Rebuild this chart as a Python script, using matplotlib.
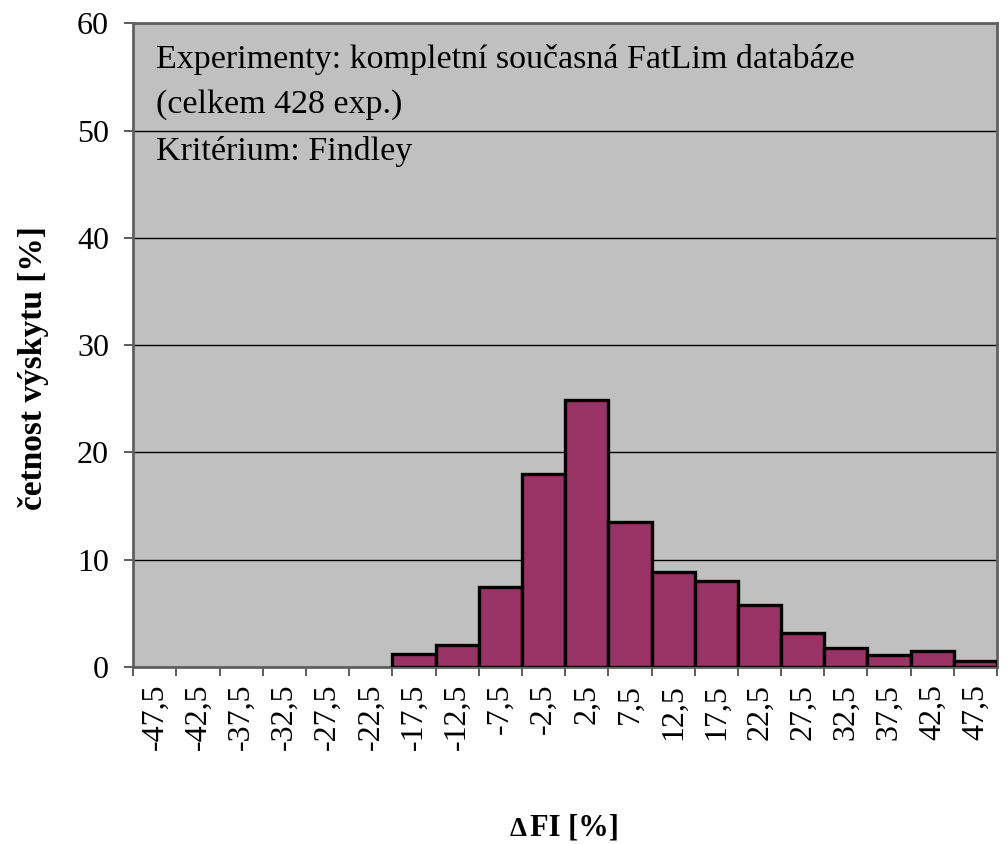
import matplotlib
matplotlib.use('Agg')
import matplotlib.pyplot as plt

# histogram classes (centre of each 5 % wide bin) and relative frequency [%]
categories = ['-47,5', '-42,5', '-37,5', '-32,5', '-27,5', '-22,5', '-17,5', '-12,5',
              '-7,5', '-2,5', '2,5', '7,5', '12,5', '17,5', '22,5', '27,5',
              '32,5', '37,5', '42,5', '47,5']
frequency = [0, 0, 0, 0, 0, 0, 1.2, 2.05, 7.5, 18.0, 24.9, 13.5, 8.9, 8.0,
             5.75, 3.15, 1.75, 1.15, 1.45, 0.55]
y_ticks = [0, 10, 20, 30, 40, 50, 60]

note_lines = ['Experimenty: kompletní současná FatLim databáze',
              '(celkem 428 exp.)',
              'Kritérium: Findley']

plt.rcParams['font.family'] = ['Liberation Serif', 'DejaVu Serif']

fig = plt.figure(figsize=(10.08, 8.44), dpi=100)
ax = fig.add_axes([0.1322, 0.2097, 0.8569, 0.7627])
ax.set_facecolor('#C0C0C0')

# draw only non-empty classes (empty ones have no outline in the original)
pos = [i for i, v in enumerate(frequency) if v > 0]
vals = [frequency[i] for i in pos]
ax.bar(pos, vals, width=1.0, color='#993366', edgecolor='black', linewidth=2.4, zorder=3)

ax.set_xlim(-0.5, len(categories) - 0.5)
ax.set_ylim(0, 60)
ax.set_yticks(y_ticks)
ax.set_yticklabels([str(t) for t in y_ticks], fontsize=23)
ax.yaxis.grid(True, color='black', linewidth=1.0, zorder=1)
ax.set_axisbelow(True)

# tick marks at bin boundaries, labels at bin centres
ax.set_xticks([i - 0.5 for i in range(len(categories) + 1)])
ax.set_xticklabels([])
ax.set_xticks(range(len(categories)), minor=True)
ax.set_xticklabels(categories, minor=True, rotation=90, fontsize=23)
ax.tick_params(axis='x', which='major', direction='out', length=6.5, width=1.2, color='#404040')
ax.tick_params(axis='x', which='minor', length=0, pad=12)
ax.tick_params(axis='y', direction='out', length=6.5, width=1.2, color='#404040', pad=11)

for side in ['left', 'bottom', 'top', 'right']:
    ax.spines[side].set_color('#606060')
    ax.spines[side].set_linewidth(2)

ax.set_ylabel('četnost výskytu [%]', fontsize=24, fontweight='bold')
ax.yaxis.set_label_coords(-0.097, 0.4645)

# x label: the delta sign is set smaller than the rest
fig.text(0.522, 0.0095, 'Δ', fontsize=19.5, fontweight='bold', ha='right', va='baseline')
fig.text(0.5255, 0.0095, 'FI [%]', fontsize=22, fontweight='bold', ha='left', va='baseline')

baselines = [0.9306, 0.8607, 0.7876]
for line, yb in zip(note_lines, baselines):
    ax.text(0.026, yb, line, transform=ax.transAxes, fontsize=24.5,
            ha='left', va='baseline', zorder=5)

fig.savefig('out.png', dpi=100)
